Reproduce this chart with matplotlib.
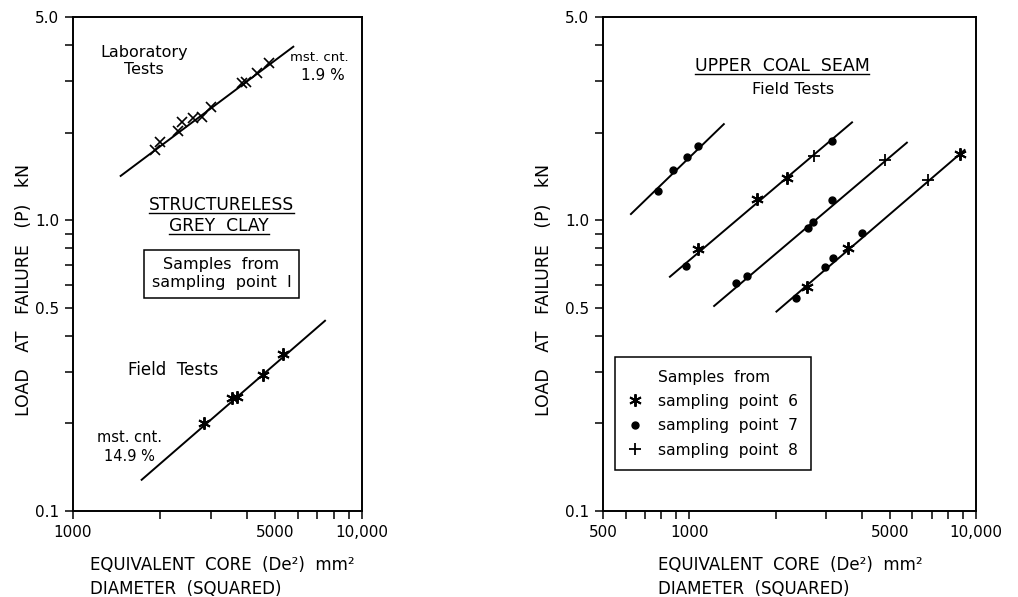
import numpy as np
import matplotlib.pyplot as plt
from matplotlib.lines import Line2D
from matplotlib.ticker import FixedLocator, FixedFormatter, NullFormatter

plt.rcParams['font.family'] = ['DejaVu Sans']
plt.rcParams['font.size'] = 10

# --- structureless grey clay, sampling point 1 ---
lab_area = [1922, 2000, 2303, 2378, 2608, 2788, 3003, 3834, 3959, 4321, 4777]
lab_load = [1.74, 1.86, 2.02, 2.18, 2.24, 2.27, 2.46, 2.96, 2.99, 3.20, 3.46]
lab_fit_area = [1462, 5785]
lab_fit_load = [1.42, 3.95]

clay_field_area = [2840, 3540, 3704, 4555, 5343]
clay_field_load = [0.200, 0.244, 0.247, 0.294, 0.347]
clay_fit_area = [1728, 7447]
clay_fit_load = [0.128, 0.451]

# --- upper coal seam field tests ---
sp6_area = [1069, 1725, 2201, 2576, 3577, 8769]
sp6_load = [0.794, 1.18, 1.393, 0.588, 0.800, 1.69]
sp7_area = [779, 879, 983, 1069, 971, 3157, 1453, 1584, 2595, 2703, 3157,
            2365, 2968, 3173, 4016]
sp7_load = [1.264, 1.488, 1.654, 1.80, 0.696, 1.877, 0.607, 0.643, 0.938,
            0.988, 1.174, 0.539, 0.692, 0.739, 0.901]
sp8_area = [2717, 4806, 6800]
sp8_load = [1.66, 1.61, 1.375]

coal_fit_area = [[626, 1320], [856, 3696], [1221, 5742], [2014, 9124]]
coal_fit_load = [[1.05, 2.14], [0.639, 2.17], [0.507, 1.848], [0.485, 1.743]]

y_major = [0.1, 0.5, 1.0, 5.0]
y_major_labels = ['0.1', '0.5', '1.0', '5.0']
y_minor = [0.2, 0.3, 0.4, 0.6, 0.7, 0.8, 0.9, 2, 3, 4]

left_x_major = [1000, 5000, 10000]
left_x_labels = ['1000', '5000', '10,000']
left_x_minor = [2000, 3000, 4000, 6000, 7000, 8000, 9000]
right_x_major = [500, 1000, 5000, 10000]
right_x_labels = ['500', '1000', '5000', '10,000']
right_x_minor = [600, 700, 800, 900, 2000, 3000, 4000, 6000, 7000, 8000, 9000]

LW = 1.4


def style_axes(ax, xlim, x_major, x_labels, x_minor):
    ax.set_xscale('log')
    ax.set_yscale('log')
    ax.set_xlim(*xlim)
    ax.set_ylim(0.1, 5.0)
    ax.xaxis.set_major_locator(FixedLocator(x_major))
    ax.xaxis.set_major_formatter(FixedFormatter(x_labels))
    ax.xaxis.set_minor_locator(FixedLocator(x_minor))
    ax.xaxis.set_minor_formatter(NullFormatter())
    ax.yaxis.set_major_locator(FixedLocator(y_major))
    ax.yaxis.set_major_formatter(FixedFormatter(y_major_labels))
    ax.yaxis.set_minor_locator(FixedLocator(y_minor))
    ax.yaxis.set_minor_formatter(NullFormatter())
    ax.tick_params(which='both', direction='out', length=6, width=1.1,
                   labelsize=11, pad=4)
    for sp in ax.spines.values():
        sp.set_linewidth(LW)
    ax.set_ylabel('LOAD   AT   FAILURE   (P)   kN', fontsize=12.5)


def underline(fig, txt, lw=1.0):
    # draw a rule just below a text's bounding box
    fig.canvas.draw()
    bb = txt.get_window_extent().transformed(fig.transFigure.inverted())
    fig.add_artist(Line2D([bb.x0, bb.x1], [bb.y0 + 0.002, bb.y0 + 0.002],
                          color='black', lw=lw, transform=fig.transFigure))


fig = plt.figure(figsize=(10.18, 5.97), dpi=100)
ax1 = fig.add_axes([0.0717, 0.1441, 0.2839, 0.8275])
ax2 = fig.add_axes([0.5923, 0.1441, 0.3664, 0.8275])

# left panel
style_axes(ax1, (1000, 10000), left_x_major, left_x_labels, left_x_minor)
ax1.plot(lab_fit_area, lab_fit_load, color='black', lw=LW)
ax1.plot(lab_area, lab_load, linestyle='none', marker='x', ms=7,
         mew=1.2, color='black')
ax1.plot(clay_fit_area, clay_fit_load, color='black', lw=LW)
ax1.plot(clay_field_area, clay_field_load, linestyle='none', marker=(6, 2, 0),
         ms=9, mew=1.4, color='black')
ax1.yaxis.set_label_coords(-0.138, 0.447)

ax1.text(0.246, 0.911, 'Laboratory\nTests', transform=ax1.transAxes,
         ha='center', va='center', fontsize=11.5, linespacing=1.2)
ax1.text(0.851, 0.917, 'mst. cnt.', transform=ax1.transAxes,
         ha='center', va='center', fontsize=9.5)
ax1.text(0.865, 0.881, '1.9 %', transform=ax1.transAxes,
         ha='center', va='center', fontsize=11)
t_struct = ax1.text(0.514, 0.619, 'STRUCTURELESS', transform=ax1.transAxes,
                    ha='center', va='center', fontsize=12.3)
t_grey = ax1.text(0.505, 0.577, 'GREY  CLAY', transform=ax1.transAxes,
                  ha='center', va='center', fontsize=12.3)
ax1.text(0.514, 0.48, 'Samples  from\nsampling  point  I',
         transform=ax1.transAxes, ha='center', va='center', fontsize=11.5,
         linespacing=1.25,
         bbox=dict(boxstyle='square,pad=0.45', fc='white', ec='black', lw=1.1))
ax1.text(0.346, 0.285, 'Field  Tests', transform=ax1.transAxes,
         ha='center', va='center', fontsize=12)
ax1.text(0.194, 0.13, 'mst. cnt.\n14.9 %', transform=ax1.transAxes,
         ha='center', va='center', fontsize=10.5, linespacing=1.3)

# right panel
style_axes(ax2, (500, 10000), right_x_major, right_x_labels, right_x_minor)
for xs, ys in zip(coal_fit_area, coal_fit_load):
    ax2.plot(xs, ys, color='black', lw=LW)
h6, = ax2.plot(sp6_area, sp6_load, linestyle='none', marker=(6, 2, 0), ms=9,
               mew=1.4, color='black', label='sampling  point  6')
h7, = ax2.plot(sp7_area, sp7_load, linestyle='none', marker='o', ms=5,
               color='black', label='sampling  point  7')
h8, = ax2.plot(sp8_area, sp8_load, linestyle='none', marker='+', ms=9,
               mew=1.3, color='black', label='sampling  point  8')
ax2.yaxis.set_label_coords(-0.134, 0.447)

t_coal = ax2.text(0.48, 0.90, 'UPPER  COAL  SEAM', transform=ax2.transAxes,
                  ha='center', va='center', fontsize=12.5)
ax2.text(0.51, 0.854, 'Field Tests', transform=ax2.transAxes,
         ha='center', va='center', fontsize=11.5)

title_row = Line2D([], [], linestyle='none', label='Samples  from')
leg = ax2.legend(handles=[title_row, h6, h7, h8], loc='lower left',
                 bbox_to_anchor=(0.032, 0.083), fontsize=11.2, frameon=True,
                 fancybox=False, edgecolor='black', framealpha=1,
                 borderpad=0.8, labelspacing=0.6, handlelength=1.0,
                 handletextpad=1.0, borderaxespad=0)
leg.get_frame().set_linewidth(1.1)

# axis titles under each panel
for x0 in (0.088, 0.646):
    fig.text(x0, 0.053, 'EQUIVALENT  CORE  (De²)  mm²', fontsize=12,
             ha='left', va='center')
    fig.text(x0, 0.013, 'DIAMETER  (SQUARED)', fontsize=12,
             ha='left', va='center')

underline(fig, t_struct)
underline(fig, t_grey)
underline(fig, t_coal)

fig.savefig('out.png', dpi=100)
